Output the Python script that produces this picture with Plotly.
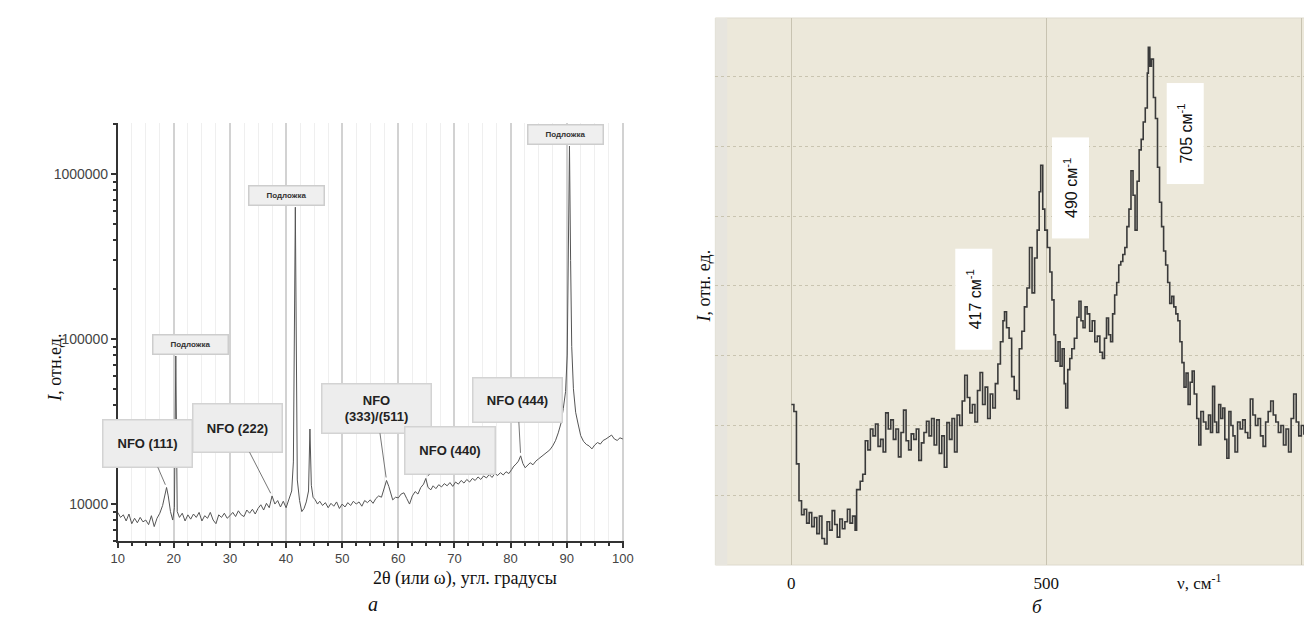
import math
import plotly.graph_objects as go

# ---------------- data: XRD (panel a) ----------------
xrd_2theta = [10.0, 10.5, 11.0, 11.5, 12.0, 12.5, 13.0, 13.5, 14.0, 14.5, 15.0, 15.5, 16.0, 16.5, 17.0, 17.5,
              18.0, 18.4, 18.7, 19.0, 19.4, 19.8, 20.1, 20.35, 20.6, 21.0, 21.5, 22.0, 22.5, 23.0, 23.5, 24.0,
              24.5, 25.0, 25.5, 26.0, 26.5, 27.0, 27.5, 28.0, 28.5, 29.0, 29.5, 30.0, 30.5, 31.0, 31.5, 32.0,
              32.5, 33.0, 33.5, 34.0, 34.5, 35.0, 35.5, 36.0, 36.5, 37.0, 37.5, 38.0, 38.5, 39.0, 39.5, 40.0,
              40.5, 41.0, 41.3, 41.5, 41.65, 41.8, 42.0, 42.4, 42.8, 43.2, 43.6, 44.0, 44.25, 44.5, 44.8, 45.2,
              45.6, 46.0, 46.5, 47.0, 47.5, 48.0, 48.5, 49.0, 49.5, 50.0, 50.5, 51.0, 51.5, 52.0, 52.5, 53.0,
              53.5, 54.0, 54.5, 55.0, 55.5, 56.0, 56.5, 57.0, 57.5, 57.9, 58.3, 58.7, 59.0, 59.5, 60.0, 60.5,
              61.0, 61.5, 62.0, 62.5, 63.0, 63.5, 64.0, 64.5, 64.9, 65.3, 65.8, 66.2, 66.7, 67.2, 67.7, 68.2,
              68.7, 69.2, 69.7, 70.2, 70.7, 71.2, 71.7, 72.2, 72.7, 73.2, 73.7, 74.2, 74.7, 75.2, 75.7, 76.2,
              76.7, 77.2, 77.7, 78.2, 78.7, 79.2, 79.7, 80.2, 80.6, 81.0, 81.4, 81.8, 82.2, 82.6, 83.0, 83.5,
              84.0, 84.5, 85.0, 85.5, 86.0, 86.5, 87.0, 87.5, 88.0, 88.5, 89.0, 89.4, 89.8, 90.1, 90.3, 90.5,
              90.7, 90.9, 91.2, 91.6, 92.0, 92.5, 93.0, 93.5, 94.0, 94.5, 95.0, 95.5, 96.0, 96.5, 97.0, 97.5,
              98.0, 98.5, 99.0, 99.5, 100.0]
xrd_intensity = [8900, 8300, 8600, 7900, 8700, 7600, 8200, 7700, 8300, 7800, 8000, 7500, 8500, 7300, 8200, 8800,
                 9800, 11500, 12600, 11200, 9000, 8000, 9500, 79000, 9000, 8300, 8800, 7900, 8600, 8100, 8700, 8300,
                 8900, 7900, 8500, 8200, 8900, 8000, 7600, 8600, 8300, 8800, 8200, 8500, 8900, 8400, 9100, 8600,
                 8400, 9200, 8800, 9300, 8700, 9400, 9900, 9200, 10100, 9500, 11200, 10000, 10500, 9600, 10400, 9500,
                 10600, 12000, 18000, 150000, 630000, 120000, 14000, 10500, 9000, 9400, 10300, 12000, 28500, 13000, 11000, 10600,
                 10000, 10400, 9800, 10200, 9500, 10100, 9700, 10300, 9400, 10000, 9600, 10200, 9800, 10400, 10000, 10300,
                 9700, 10500, 10200, 10600, 10100, 10800, 11200, 11000, 12500, 13900, 12800, 11500, 10600, 11000, 10900, 11500,
                 11700, 10800, 10000, 11200, 11900, 11500, 12600, 13200, 14300, 12600, 12200, 12900, 12400, 13100, 12700, 13300,
                 12900, 13500, 12800, 13600, 13200, 13900, 13400, 14100, 13600, 14300, 13900, 14600, 14100, 14800, 14400, 15100,
                 14500, 15300, 14900, 15500, 15000, 15700, 15300, 16200, 17000, 17500, 18200, 19600, 17600, 16600, 17200, 17800,
                 17300, 18200, 18800, 19400, 19900, 20600, 21300, 22500, 24200, 27000, 31000, 38000, 48000, 80000, 300000, 1480000,
                 300000, 90000, 50000, 36000, 31000, 26000, 24000, 23000, 22500, 21600, 22800, 23600, 23100, 24300, 24800, 25600,
                 26200, 24800, 24300, 25200, 24800]

xrd_peak_labels = ["NFO (111)", "NFO (222)", "NFO<br>(333)/(511)", "NFO (440)", "NFO (444)"]
xrd_peak_pos = [18.7, 37.5, 57.9, 64.9, 81.8]
substrate_label = "Подложка"
substrate_pos = [20.35, 41.65, 90.5]

# ---------------- data: Raman (panel б) ----------------
raman_shift = [0, 5, 10, 15, 20, 25, 30, 35, 40, 45, 50, 55, 60, 65, 70, 75, 80, 85, 90, 95, 100, 105, 110, 115, 120, 125,
               128, 135, 140, 145, 150, 155, 160, 165, 170, 175, 180, 185, 190, 195, 200, 205, 210, 215, 220, 225, 230,
               235, 240, 245, 250, 255, 260, 265, 270, 275, 280, 285, 290, 295, 300, 305, 310, 315, 320, 325, 330, 335,
               340, 345, 350, 355, 360, 365, 370, 375, 380, 385, 390, 395, 400, 405, 410, 415, 418, 422, 427, 432, 437,
               442, 447, 452, 457, 462, 467, 472, 477, 482, 486, 489, 493, 497, 502, 507, 511, 515, 518, 523, 527, 531,
               535, 538, 542, 546, 550, 555, 560, 564, 568, 572, 576, 580, 585, 590, 595, 600, 605, 610, 614, 618, 622,
               626, 630, 634, 638, 642, 646, 650, 654, 658, 662, 666, 670, 674, 678, 682, 686, 690, 694, 698, 700, 703,
               706, 710, 714, 718, 722, 726, 730, 734, 738, 742, 746, 750, 754, 758, 762, 766, 770, 774, 778, 782, 786,
               790, 795, 799, 803, 808, 813, 818, 822, 826, 830, 834, 838, 842, 846, 850, 854, 858, 862, 866, 870, 875,
               880, 885, 890, 895, 900, 905, 910, 915, 920, 925, 930, 935, 940, 945, 950, 955, 960, 965, 970, 975, 980,
               985, 990, 995, 1000, 1005, 1010, 1015]
raman_intensity = [2.30, 2.20, 1.45, 0.92, 0.72, 0.80, 0.60, 0.75, 0.55, 0.68, 0.45, 0.70, 0.38, 0.30, 0.62, 0.50, 0.78,
                   0.58, 0.40, 0.66, 0.52, 0.62, 0.80, 0.60, 0.70, 0.50,
                   1.08, 1.20, 1.30, 1.78, 1.65, 1.95, 1.85, 2.02, 1.70, 1.80, 1.62, 2.18, 1.95, 2.08, 1.80, 1.95, 1.55,
                   1.90, 2.22, 1.78, 1.65, 1.88, 1.80, 1.95, 1.50, 1.75, 1.90, 2.06, 1.85, 2.10, 1.72, 2.08, 1.60, 1.85,
                   1.40, 2.04, 1.80, 2.10, 1.62, 2.15, 2.00, 2.35, 2.72, 2.40, 2.18, 2.30, 2.05, 2.50, 2.76, 2.30, 2.55,
                   2.10, 2.45, 2.25, 2.60, 2.88, 3.20, 3.50, 3.63, 3.40, 3.25, 2.70, 2.50, 2.38, 3.10, 3.35, 3.70, 3.97,
                   4.55, 3.90, 4.40, 4.80, 5.35, 5.73, 5.10, 4.80, 4.55, 4.20, 3.80, 3.30, 2.92, 3.20, 2.85, 3.10, 2.60,
                   2.25, 2.80, 2.96, 3.10, 3.25, 3.55, 3.78, 3.50, 3.40, 3.70, 3.60, 3.35, 3.50, 3.20, 3.28, 3.05, 2.96,
                   3.25, 3.54, 3.30, 3.20, 3.60, 3.87, 4.05, 4.30, 4.35, 4.45, 4.55, 4.85, 5.10, 5.65, 5.30, 4.80, 5.50,
                   5.95, 6.10, 6.35, 6.55, 7.05, 7.42, 7.15, 7.25, 6.70, 6.40, 5.70, 5.20, 4.85, 4.50, 4.30, 4.05, 3.75,
                   3.85, 3.70, 3.60, 3.50, 3.20, 2.90, 2.55, 2.75, 2.30, 2.62, 2.78, 2.45, 2.10, 1.72, 2.20, 2.05, 1.95,
                   2.15, 1.90, 2.56, 2.05, 1.90, 2.30, 2.10, 2.25, 1.80, 1.53, 2.20, 2.00, 1.85, 1.62, 2.05, 1.95, 2.08,
                   1.90, 1.82, 2.38, 2.15, 2.00, 2.10, 1.85, 1.70, 2.05, 2.20, 2.35, 2.15, 2.05, 1.90, 2.00, 1.72, 1.95,
                   1.62, 2.10, 2.45, 2.05, 1.85, 2.00, 1.88, 1.95, 1.90]
raman_peak_pos = [417, 490, 705]
raman_peak_labels = ["417 см<sup>-1</sup>", "490 см<sup>-1</sup>", "705 см<sup>-1</sup>"]

xrd_xticks = [10, 20, 30, 40, 50, 60, 70, 80, 90, 100]
xrd_yticks = [10000, 100000, 1000000]
raman_xticks = [0, 500]
raman_xgrid_extra = [1000]


def nearest(xs, ys, x0):
    i = min(range(len(xs)), key=lambda k: abs(xs[k] - x0))
    return xs[i], ys[i]


fig = go.Figure()
fig.add_trace(go.Scatter(x=xrd_2theta, y=xrd_intensity, mode="lines",
                         line=dict(color="#555555", width=1), xaxis="x", yaxis="y",
                         showlegend=False, hoverinfo="skip"))
fig.add_trace(go.Scatter(x=raman_shift, y=raman_intensity, mode="lines",
                         line=dict(color="#3a3a3a", width=1.6, shape="hv"), xaxis="x2", yaxis="y2",
                         showlegend=False, hoverinfo="skip"))

W, H = 1312, 621
serif = "Liberation Serif, Times New Roman, serif"
sans = "Liberation Sans, Arial, sans-serif"

minor_y = [m * 10 ** e for e in (3, 4, 5, 6) for m in range(2, 10)]
minor_y = [v for v in minor_y if 5900 < v < 2.05e6]

fig.update_layout(
    width=W, height=H, margin=dict(l=0, r=0, t=0, b=0),
    paper_bgcolor="white", plot_bgcolor="white",
    xaxis=dict(domain=[104 / W, 617 / W], range=[10, 100.3], tickvals=xrd_xticks,
               showline=True, linecolor="#333", linewidth=1.5, ticks="outside", ticklen=5,
               tickwidth=1.5, tickcolor="#333", tickfont=dict(family=sans, size=13, color="#444"),
               showgrid=True, gridcolor="#d2d2d2", gridwidth=1.5, zeroline=False,
               minor=dict(dtick=2.5, tick0=10, ticks="outside", ticklen=3, tickcolor="#333",
                          showgrid=True, gridcolor="#efefef", gridwidth=1)),
    yaxis=dict(domain=[1 - 533 / H, 1 - 115 / H], type="log", range=[3.776, 6.31],
               tickvals=xrd_yticks, ticktext=["10000", "100000", "1000000"],
               showline=True, linecolor="#333", linewidth=1.5, ticks="outside", ticklen=5,
               tickwidth=1.5, tickcolor="#333", tickfont=dict(family=sans, size=14, color="#444"),
               showgrid=False, zeroline=False,
               minor=dict(tickmode="array", tickvals=minor_y, ticks="outside", ticklen=3,
                          tickcolor="#333", showgrid=False)),
    xaxis2=dict(domain=[709 / W, 1.0], range=[-149, 1019], anchor="y2",
                tickvals=raman_xticks,
                ticks="outside", ticklen=3, tickcolor="rgba(0,0,0,0)",
                tickfont=dict(family=serif, size=17, color="#111"),
                showgrid=True, gridcolor="#c8c3b1", gridwidth=1.2, zeroline=False, showline=False,
                minor=dict(tickmode="array", tickvals=raman_xgrid_extra, ticks="", showgrid=True,
                           gridcolor="#c8c3b1", gridwidth=1.2)),
    yaxis2=dict(domain=[1 - 557 / H, 1 - 10 / H], range=[0, 7.84], anchor="x2",
                tickvals=[1, 2, 3, 4, 5, 6, 7], showticklabels=False, ticks="",
                showgrid=True, gridcolor="#c9c4b0", griddash="dot", gridwidth=1.2,
                zeroline=False, showline=False),
)

# beige background of panel б
fig.add_shape(type="rect", xref="x2 domain", yref="y2 domain", x0=0, x1=1, y0=0, y1=1,
              fillcolor="#ece8da", line=dict(color="#dedacd", width=1), layer="below")
fig.add_shape(type="rect", xref="x2 domain", yref="y2 domain", x0=0, x1=0.02, y0=0, y1=1,
              fillcolor="#e7e5de", line=dict(width=0), layer="below")

ann = []
# substrate labels (boxes sit on the tips of the substrate peaks)
for px, xs in zip(substrate_pos, [15, -9, -4]):
    x0, y0 = nearest(xrd_2theta, xrd_intensity, px)
    ann.append(dict(x=x0, y=math.log10(y0), xref="x", yref="y",
                    text="<b>" + substrate_label + "</b>", showarrow=False, yanchor="bottom",
                    xshift=xs, yshift=1, font=dict(family=sans, size=8, color="#333"),
                    bgcolor="#efefef", bordercolor="#cdcdcd", borderwidth=1.5, width=72, height=16))

# NFO callouts
offsets = [(-19, -44), (-35, -68), (-10, -72), (24, -28), (-3, -56)]
sizes = [(86, 44), (86, 45), (106, 46), (87, 44), (86, 41)]
for lab, px, (ax, ay), (w, h) in zip(xrd_peak_labels, xrd_peak_pos, offsets, sizes):
    x0, y0 = nearest(xrd_2theta, xrd_intensity, px)
    ann.append(dict(x=x0, y=math.log10(y0), xref="x", yref="y", text="<b>" + lab + "</b>",
                    showarrow=True, arrowhead=0, arrowwidth=1, arrowcolor="#777", standoff=3,
                    ax=ax, ay=ay, font=dict(family=sans, size=13, color="#222"),
                    bgcolor="#ededed", bordercolor="#d3d3d3", borderwidth=1.5, width=w, height=h))

# Raman peak labels
r_off = [(-31, 12), (30, -23), (34, -74)]
for lab, px, (xs, ys) in zip(raman_peak_labels, raman_peak_pos, r_off):
    x0, y0 = nearest(raman_shift, raman_intensity, px)
    ann.append(dict(x=x0, y=y0, xref="x2", yref="y2", text=lab, showarrow=False, textangle=-90,
                    xshift=xs, yshift=ys, font=dict(family=sans, size=16, color="#111"),
                    bgcolor="white", borderpad=2, width=96, height=32))

# axis titles and panel letters
ann += [
    dict(x=28 / W, y=1 - 360 / H, xref="paper", yref="paper", text="<i>I</i>, отн.ед.", textangle=-90,
         showarrow=False, font=dict(family=serif, size=18, color="#111")),
    dict(x=360 / W, y=1 - 583 / H, xref="paper", yref="paper", text="2θ (или ω), угл. градусы",
         showarrow=False, font=dict(family=serif, size=18, color="#111")),
    dict(x=355 / W, y=1 - 609 / H, xref="paper", yref="paper", text="<i>а</i>",
         showarrow=False, font=dict(family=serif, size=20, color="#111")),
    dict(x=697 / W, y=1 - 278 / H, xref="paper", yref="paper", text="<i>I</i>, отн. ед.", textangle=-90,
         showarrow=False, font=dict(family=serif, size=18, color="#111")),
    dict(x=800, y=0, xref="x2", yref="y2", yshift=-17, text="ν, см<sup>-1</sup>",
         showarrow=False, font=dict(family=serif, size=17, color="#111")),
    dict(x=1043 / W, y=1 - 611 / H, xref="paper", yref="paper", text="<i>б</i>",
         showarrow=False, font=dict(family=serif, size=19, color="#111")),
]
fig.update_layout(annotations=ann)

fig.write_html("out.html")
